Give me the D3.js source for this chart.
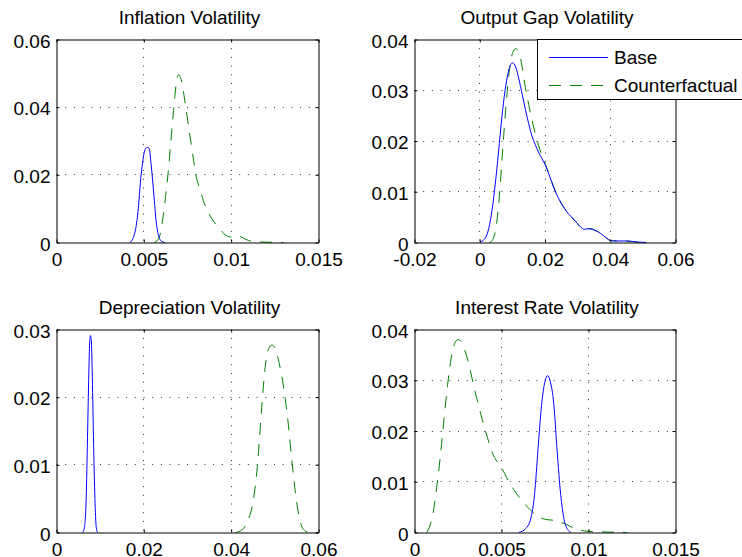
<!DOCTYPE html>
<html>
<head>
<meta charset="utf-8">
<script src="https://cdn.jsdelivr.net/npm/d3@7"></script>
<style>
  body { margin: 0; background: #fff; }
  svg { display: block; }
  text { font-family: "Liberation Sans", Arial, Helvetica, sans-serif; font-size: 19px; fill: #000; }
</style>
</head>
<body>
<svg id="fig" width="742" height="557"></svg>
<script>
// ---- Kernel density estimates of simulated volatilities: [value, density] ----
const inflationBase = [
  [0.0042, 0], [0.0044, 0.0015], [0.00455, 0.0045], [0.0047, 0.011], [0.0048, 0.0176],
  [0.0049, 0.0225], [0.0050, 0.026], [0.0051, 0.0278], [0.0052, 0.0281], [0.0053, 0.0279],
  [0.0054, 0.024], [0.0055, 0.0185], [0.0056, 0.0125], [0.0057, 0.0065], [0.0058, 0.003],
  [0.0059, 0.0012], [0.0060, 0.0004], [0.0062, 0]
];
const inflationCounterfactual = [
  [0.0056, 0], [0.0058, 0.0008], [0.0060, 0.004], [0.0061, 0.0075], [0.0062, 0.0115],
  [0.0063, 0.016], [0.0064, 0.021], [0.0065, 0.027], [0.0066, 0.033], [0.0067, 0.039],
  [0.0068, 0.0445], [0.0069, 0.0485], [0.0070, 0.0496], [0.0071, 0.0488], [0.0072, 0.0468],
  [0.0073, 0.0435], [0.0074, 0.040], [0.0075, 0.0365], [0.0076, 0.0328], [0.0077, 0.0295],
  [0.0078, 0.026], [0.0079, 0.0225], [0.0080, 0.0195], [0.0082, 0.016], [0.0084, 0.0125],
  [0.0086, 0.0098], [0.0088, 0.0078], [0.0090, 0.0062], [0.0092, 0.005], [0.0094, 0.0037],
  [0.0096, 0.0025], [0.0098, 0.0018], [0.0100, 0.0016], [0.0102, 0.0017], [0.0104, 0.0019],
  [0.0106, 0.0016], [0.0108, 0.001], [0.0110, 0.0006], [0.0112, 0.0003], [0.0115, 0.0002],
  [0.0120, 0.0001], [0.0125, 0.00005], [0.0130, 0]
];

const outputGapBase = [
  [0, 0], [0.001, 0.0004], [0.002, 0.0012], [0.003, 0.0035], [0.004, 0.0075], [0.005, 0.013],
  [0.006, 0.0195], [0.007, 0.026], [0.008, 0.031], [0.009, 0.0342], [0.010, 0.0354],
  [0.011, 0.0346], [0.012, 0.0322], [0.013, 0.0292], [0.014, 0.0262], [0.015, 0.0234],
  [0.016, 0.021], [0.017, 0.0193], [0.018, 0.0178], [0.019, 0.0166], [0.020, 0.0154],
  [0.021, 0.0138], [0.022, 0.012], [0.023, 0.0103], [0.024, 0.0089], [0.025, 0.0077],
  [0.026, 0.0067], [0.027, 0.0058], [0.028, 0.0051], [0.029, 0.0044], [0.030, 0.0037],
  [0.031, 0.003], [0.032, 0.0026], [0.033, 0.0027], [0.034, 0.0027], [0.035, 0.0025],
  [0.036, 0.0022], [0.037, 0.0018], [0.038, 0.0013], [0.039, 0.0008], [0.040, 0.0004],
  [0.042, 0.0003], [0.045, 0.0003], [0.048, 0.0001], [0.051, 0]
];
const outputGapCounterfactual = [
  [0.003, 0], [0.004, 0.0006], [0.005, 0.003], [0.006, 0.009], [0.007, 0.018], [0.008, 0.0265],
  [0.009, 0.0335], [0.010, 0.0372], [0.011, 0.0382], [0.012, 0.0376], [0.013, 0.0345],
  [0.014, 0.0305], [0.015, 0.0272], [0.016, 0.0242], [0.017, 0.0215], [0.018, 0.0192],
  [0.019, 0.0172], [0.020, 0.0156], [0.021, 0.0139], [0.022, 0.0121], [0.023, 0.0104],
  [0.024, 0.009], [0.025, 0.0077], [0.026, 0.0067], [0.027, 0.0058], [0.028, 0.0051],
  [0.029, 0.0044], [0.030, 0.0037], [0.031, 0.003], [0.032, 0.0026], [0.033, 0.0027],
  [0.034, 0.0027], [0.035, 0.0025], [0.036, 0.0022], [0.037, 0.0018], [0.038, 0.0013],
  [0.039, 0.0008], [0.040, 0.0004], [0.042, 0.0003], [0.045, 0.0003], [0.048, 0.0001], [0.051, 0]
];

const depreciationBase = [
  [0.0060, 0], [0.0064, 0.0008], [0.0068, 0.005], [0.0071, 0.014], [0.0074, 0.0235],
  [0.0076, 0.028], [0.0078, 0.0291], [0.0080, 0.028], [0.0082, 0.023], [0.0085, 0.013],
  [0.0088, 0.005], [0.0091, 0.0008], [0.0094, 0]
];
const depreciationCounterfactual = [
  [0.0410, 0], [0.0425, 0.0004], [0.0440, 0.002], [0.0450, 0.0045], [0.0460, 0.0098],
  [0.0470, 0.0185], [0.0478, 0.0245], [0.0486, 0.0272], [0.0494, 0.0277], [0.0502, 0.027],
  [0.0510, 0.025], [0.0520, 0.0215], [0.0530, 0.0165], [0.0540, 0.010], [0.0550, 0.0045],
  [0.0560, 0.0012], [0.0570, 0.0002], [0.0580, 0], [0.0600, 0]
];

const interestBase = [
  [0.0060, 0], [0.0064, 0.0008], [0.0067, 0.003], [0.0069, 0.0075], [0.0071, 0.0165],
  [0.0073, 0.025], [0.0075, 0.0298], [0.00765, 0.0309], [0.0078, 0.0298], [0.0080, 0.0255],
  [0.0082, 0.016], [0.0084, 0.0075], [0.0086, 0.0025], [0.0088, 0.0006], [0.0090, 0]
];
const interestCounterfactual = [
  [0.0007, 0], [0.0009, 0.0015], [0.0011, 0.0045], [0.0013, 0.0095], [0.0015, 0.0155],
  [0.0017, 0.0225], [0.0019, 0.029], [0.0021, 0.0342], [0.0023, 0.0372], [0.0025, 0.038],
  [0.0027, 0.0376], [0.0029, 0.0358], [0.0031, 0.0335], [0.0033, 0.0305], [0.0035, 0.0275],
  [0.0037, 0.0248], [0.0039, 0.0222], [0.0041, 0.0198], [0.0043, 0.0175], [0.0045, 0.0155],
  [0.0047, 0.0142], [0.0050, 0.0128], [0.0053, 0.0108], [0.0056, 0.009], [0.0059, 0.0075],
  [0.0062, 0.0062], [0.0065, 0.005], [0.0068, 0.004], [0.0071, 0.0032], [0.0074, 0.0027],
  [0.0077, 0.0025], [0.0080, 0.0024], [0.0083, 0.0021], [0.0086, 0.0018], [0.0089, 0.0013],
  [0.0092, 0.0008], [0.0095, 0.0005], [0.0100, 0.0002], [0.0110, 0.0001], [0.0122, 0]
];

// ---- Titles, ticks and labels ----
const titles = ["Inflation Volatility", "Output Gap Volatility", "Depreciation Volatility", "Interest Rate Volatility"];
const seriesNames = ["Base", "Counterfactual"];

const inflationXTicks = [0, 0.005, 0.01, 0.015];
const inflationXLabels = ["0", "0.005", "0.01", "0.015"];
const inflationYTicks = [0, 0.02, 0.04, 0.06];
const inflationYLabels = ["0", "0.02", "0.04", "0.06"];

const outputGapXTicks = [-0.02, 0, 0.02, 0.04, 0.06];
const outputGapXLabels = ["-0.02", "0", "0.02", "0.04", "0.06"];
const outputGapYTicks = [0, 0.01, 0.02, 0.03, 0.04];
const outputGapYLabels = ["0", "0.01", "0.02", "0.03", "0.04"];

const depreciationXTicks = [0, 0.02, 0.04, 0.06];
const depreciationXLabels = ["0", "0.02", "0.04", "0.06"];
const depreciationYTicks = [0, 0.01, 0.02, 0.03];
const depreciationYLabels = ["0", "0.01", "0.02", "0.03"];

const interestXTicks = [0, 0.005, 0.01, 0.015];
const interestXLabels = ["0", "0.005", "0.01", "0.015"];
const interestYTicks = [0, 0.01, 0.02, 0.03, 0.04];
const interestYLabels = ["0", "0.01", "0.02", "0.03", "0.04"];

// ---- Layout and styling ----
const BASE_COLOR = "#0000ff";
const CF_COLOR = "#008000";
const CF_DASH = "12,9";
const GRID_DASH = "1,7.7";

const leftCol = { x0: 56.5, x1: 318.5 };
const rightCol = { x0: 414.5, x1: 675.5 };
const topRow = { y0: 39.5, y1: 242.5 };
const bottomRow = { y0: 329.5, y1: 532.5 };

const panels = [
  { title: titles[0], ...leftCol, ...topRow, xTicks: inflationXTicks, xLabels: inflationXLabels,
    yTicks: inflationYTicks, yLabels: inflationYLabels, base: inflationBase, cf: inflationCounterfactual },
  { title: titles[1], ...rightCol, ...topRow, xTicks: outputGapXTicks, xLabels: outputGapXLabels,
    yTicks: outputGapYTicks, yLabels: outputGapYLabels, base: outputGapBase, cf: outputGapCounterfactual, legend: true },
  { title: titles[2], ...leftCol, ...bottomRow, xTicks: depreciationXTicks, xLabels: depreciationXLabels,
    yTicks: depreciationYTicks, yLabels: depreciationYLabels, base: depreciationBase, cf: depreciationCounterfactual },
  { title: titles[3], ...rightCol, ...bottomRow, xTicks: interestXTicks, xLabels: interestXLabels,
    yTicks: interestYTicks, yLabels: interestYLabels, base: interestBase, cf: interestCounterfactual }
];

const svg = d3.select("#fig");
svg.append("rect").attr("width", 742).attr("height", 557).attr("fill", "#fff");

function styleAxis(g) {
  g.attr("font-family", null).attr("font-size", null).attr("color", "#000");
  g.selectAll("path.domain").attr("stroke", "#000").attr("stroke-width", 1);
  g.selectAll(".tick line").attr("stroke", "#000").attr("stroke-width", 1);
}

panels.forEach((p, i) => {
  const x = d3.scaleLinear().domain(d3.extent(p.xTicks)).range([p.x0, p.x1]);
  const y = d3.scaleLinear().domain(d3.extent(p.yTicks)).range([p.y1, p.y0]);
  const g = svg.append("g").attr("class", "panel");

  // dotted grid at the interior ticks
  const grid = g.append("g").attr("stroke", "#333").attr("stroke-width", 1).attr("stroke-dasharray", GRID_DASH);
  p.xTicks.slice(1, -1).forEach(t => {
    const px = Math.round(x(t) - 0.5) + 0.5;
    grid.append("line").attr("x1", px).attr("x2", px).attr("y1", p.y0).attr("y2", p.y1);
  });
  p.yTicks.slice(1, -1).forEach(t => {
    const py = Math.round(y(t) - 0.5) + 0.5;
    grid.append("line").attr("x1", p.x0).attr("x2", p.x1).attr("y1", py).attr("y2", py);
  });

  // density curves, clipped to the axes box
  const clipId = "clip" + i;
  svg.append("clipPath").attr("id", clipId).append("rect")
    .attr("x", p.x0 - 1).attr("y", p.y0).attr("width", p.x1 - p.x0 + 2).attr("height", p.y1 - p.y0 + 1);
  const line = d3.line().x(d => x(d[0])).y(d => y(d[1])).curve(d3.curveMonotoneX);
  const curves = g.append("g").attr("clip-path", `url(#${clipId})`).attr("fill", "none");
  curves.append("path").datum(p.cf).attr("d", line)
    .attr("stroke", CF_COLOR).attr("stroke-width", 1).attr("stroke-dasharray", CF_DASH);
  curves.append("path").datum(p.base).attr("d", line)
    .attr("stroke", BASE_COLOR).attr("stroke-width", 1);

  // box axes with inward ticks on all four sides
  const bottom = g.append("g").attr("transform", `translate(0,${p.y1})`)
    .call(d3.axisBottom(x).tickValues(p.xTicks).tickFormat((d, k) => p.xLabels[k])
      .tickSize(-3).tickSizeOuter(0).tickPadding(10.5));
  const top = g.append("g").attr("transform", `translate(0,${p.y0})`)
    .call(d3.axisTop(x).tickValues(p.xTicks).tickFormat("").tickSize(-3).tickSizeOuter(0));
  const left = g.append("g").attr("transform", `translate(${p.x0},0)`)
    .call(d3.axisLeft(y).tickValues(p.yTicks).tickFormat((d, k) => p.yLabels[k])
      .tickSize(-3).tickSizeOuter(0).tickPadding(6));
  const right = g.append("g").attr("transform", `translate(${p.x1},0)`)
    .call(d3.axisRight(y).tickValues(p.yTicks).tickFormat("").tickSize(-3).tickSizeOuter(0));
  [bottom, top, left, right].forEach(styleAxis);
  left.selectAll(".tick text").attr("dy", "0.4em");

  // title
  g.append("text").attr("x", (p.x0 + p.x1) / 2 + 2).attr("y", p.y0 - 15.5)
    .attr("text-anchor", "middle").text(p.title);

  if (p.legend) {
    const lg = svg.append("g").attr("class", "legend");
    lg.append("rect").attr("x", 537.5).attr("y", p.y0).attr("width", 212).attr("height", 60)
      .attr("fill", "#fff").attr("stroke", "#000").attr("stroke-width", 1);
    const rows = [
      { name: seriesNames[0], color: BASE_COLOR, dash: null, cy: 57.5 },
      { name: seriesNames[1], color: CF_COLOR, dash: CF_DASH, cy: 85.5 }
    ];
    rows.forEach(r => {
      lg.append("line").attr("x1", 549).attr("x2", 608).attr("y1", r.cy).attr("y2", r.cy)
        .attr("stroke", r.color).attr("stroke-width", 1).attr("stroke-dasharray", r.dash);
      lg.append("text").attr("x", 614).attr("y", r.cy).attr("dy", "0.36em").text(r.name);
    });
  }
});
</script>
</body>
</html>
